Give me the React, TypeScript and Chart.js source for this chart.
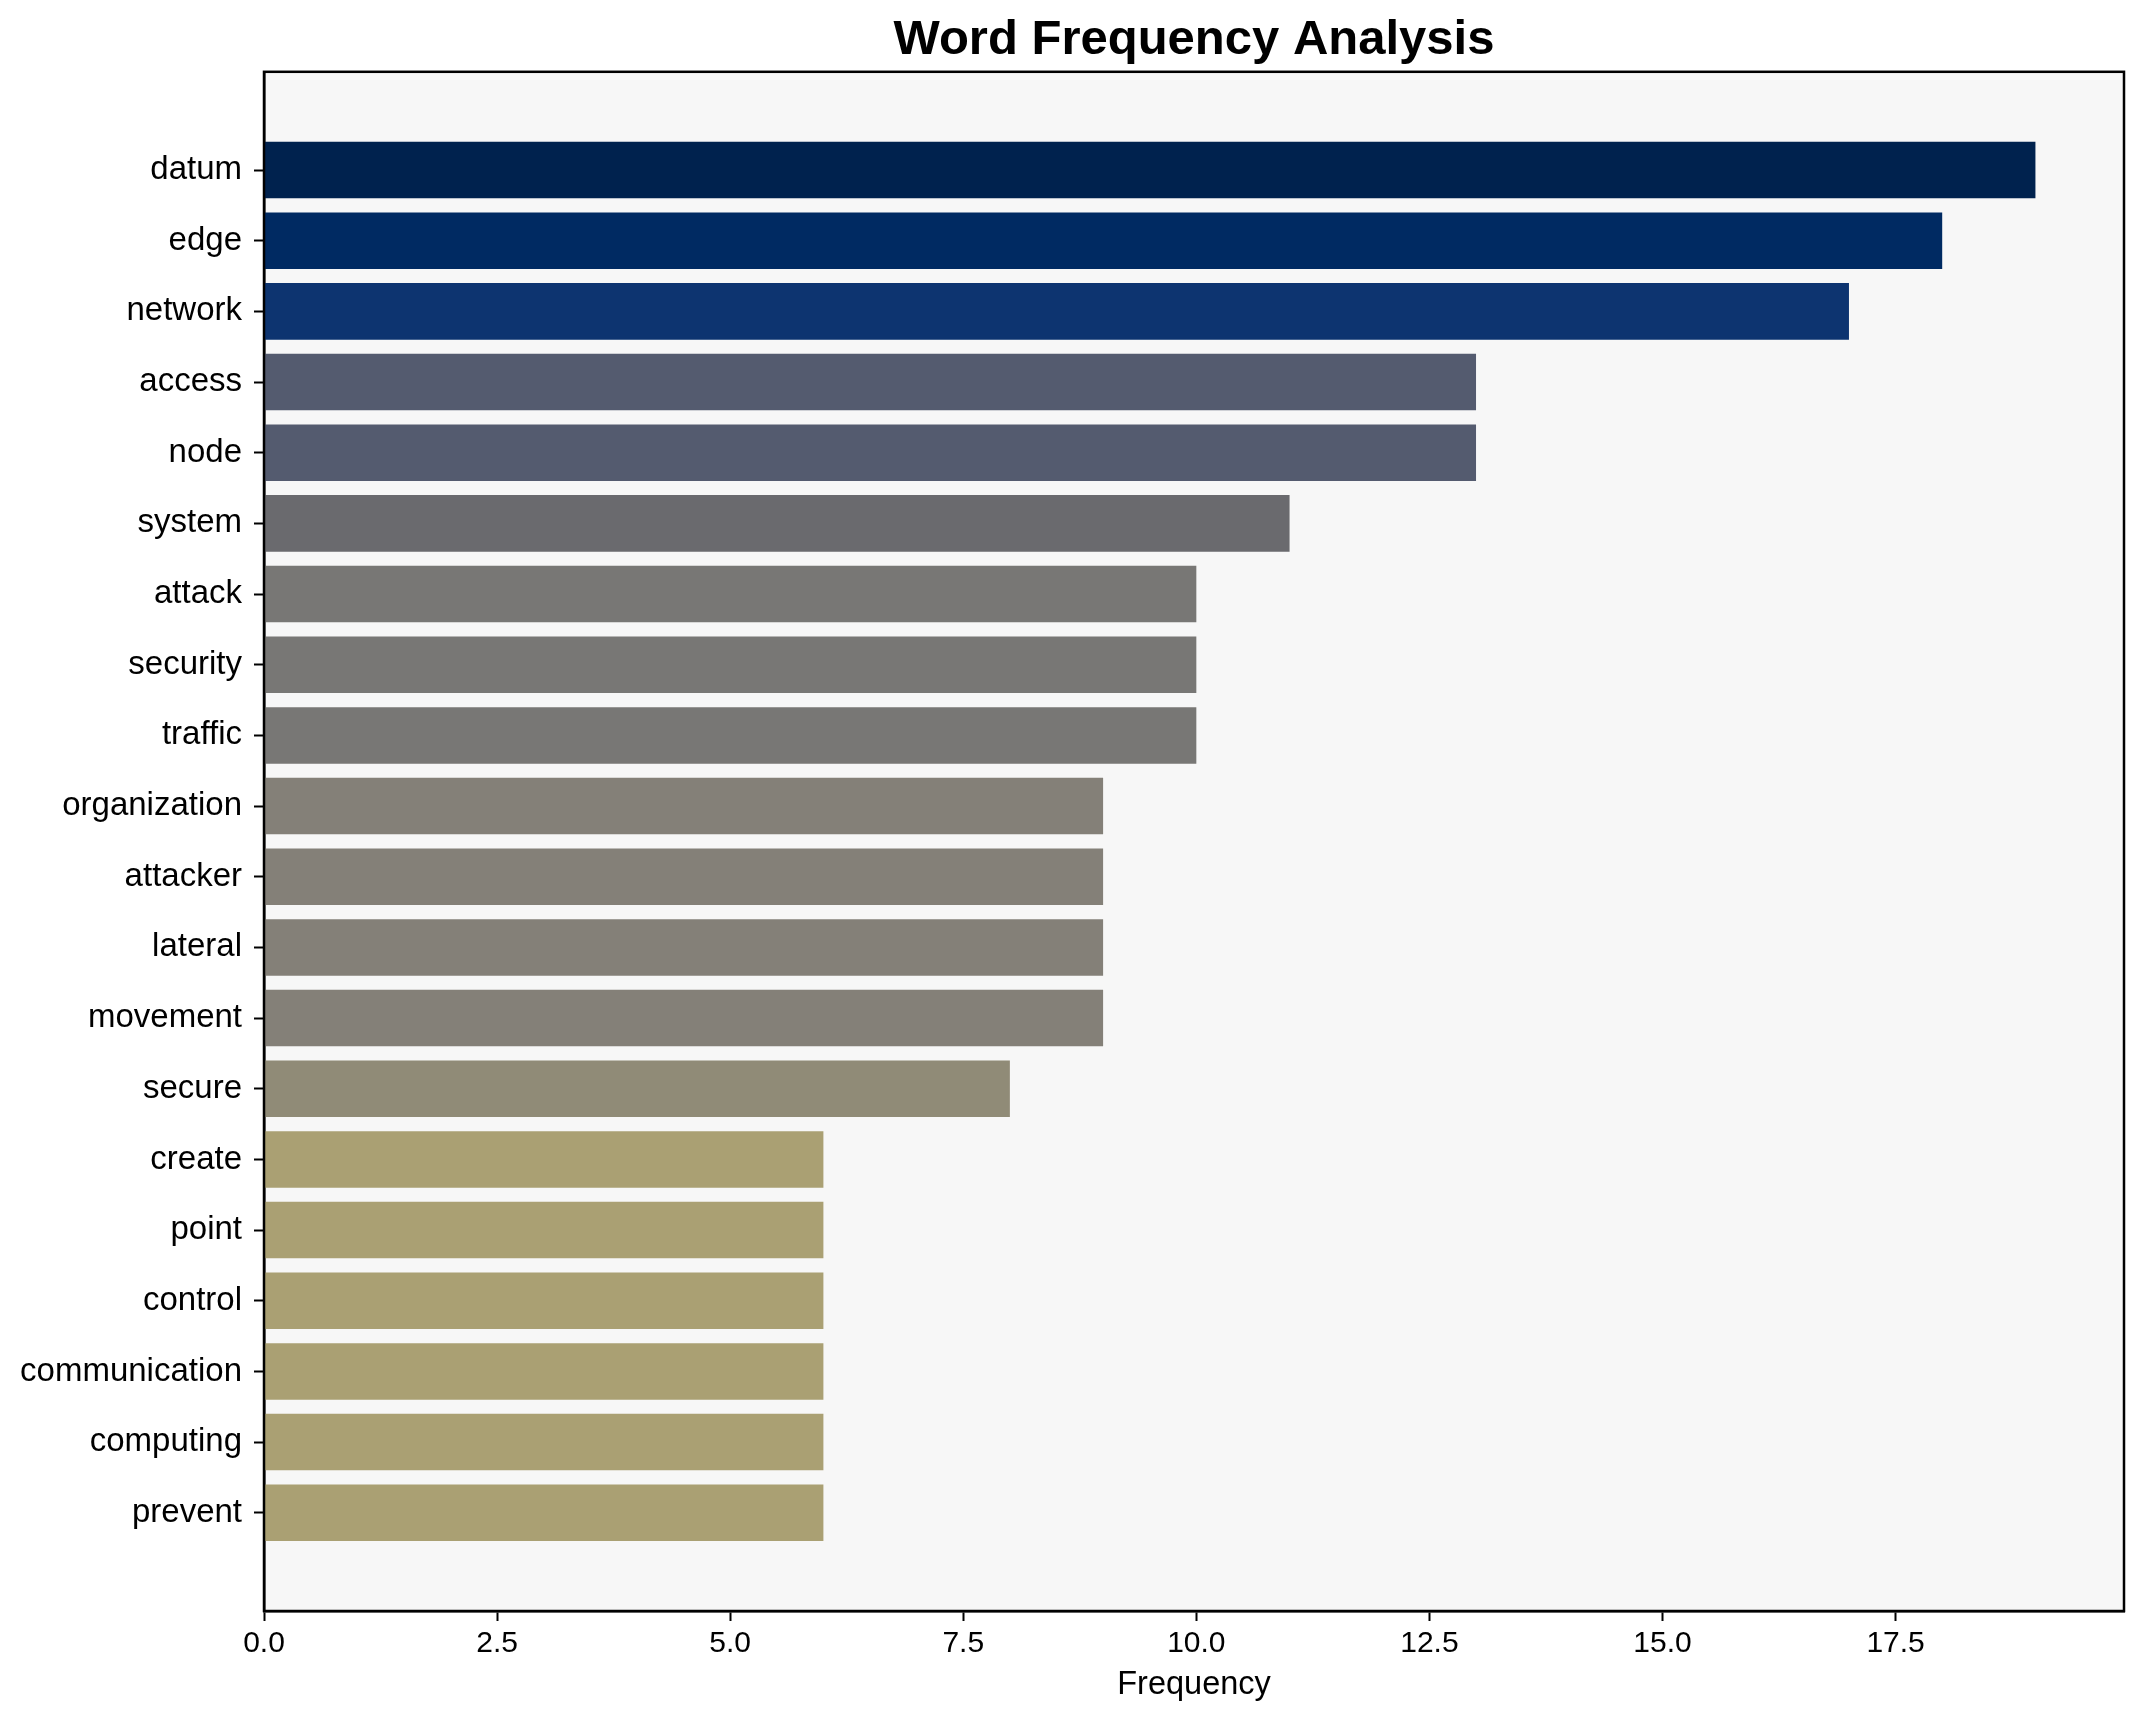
import React, { useEffect, useRef } from "react";
import { Chart, registerables } from "chart.js";

Chart.register(...registerables);

const words: string[] = [
  "datum", "edge", "network", "access", "node", "system", "attack", "security",
  "traffic", "organization", "attacker", "lateral", "movement", "secure",
  "create", "point", "control", "communication", "computing", "prevent",
];
const frequencies: number[] = [19, 18, 17, 13, 13, 11, 10, 10, 10, 9, 9, 9, 9, 8, 6, 6, 6, 6, 6, 6];
const xTickValues: number[] = [0, 2.5, 5, 7.5, 10, 12.5, 15, 17.5];

const colorByValue: Record<number, string> = {
  19: "#00224e",
  18: "#002a62",
  17: "#0d3470",
  13: "#545b6f",
  11: "#6a6a6e",
  10: "#787775",
  9: "#848078",
  8: "#908b77",
  6: "#aaa073",
};

const W = 2143;
const H = 1722;
const LEFT = 264;
const BOTTOM_AXIS = 111;
const FONT = "'Liberation Sans', Arial, Helvetica, sans-serif";

const framePlugin = {
  id: "frame",
  beforeDraw(chart: any) {
    const { ctx, chartArea } = chart;
    ctx.save();
    ctx.fillStyle = "#ffffff";
    ctx.fillRect(0, 0, chart.width, chart.height);
    ctx.fillStyle = "#f7f7f7";
    ctx.fillRect(chartArea.left, chartArea.top, chartArea.right - chartArea.left, chartArea.bottom - chartArea.top);
    ctx.restore();
  },
  afterDraw(chart: any) {
    const { ctx, chartArea } = chart;
    ctx.save();
    ctx.strokeStyle = "#000000";
    ctx.lineWidth = 2.5;
    ctx.strokeRect(chartArea.left, chartArea.top, chartArea.right - chartArea.left, chartArea.bottom - chartArea.top);
    ctx.restore();
  },
};

export default function App() {
  const ref = useRef<HTMLCanvasElement | null>(null);

  useEffect(() => {
    document.body.style.margin = "0";
    if (!ref.current) return;
    const maxVal = Math.max(...frequencies);
    const chart = new Chart(ref.current, {
      type: "bar",
      data: {
        datasets: [
          {
            data: frequencies.map((v, i) => ({ x: v, y: i })),
            backgroundColor: frequencies.map((v) => colorByValue[v]),
            borderWidth: 0,
            barPercentage: 0.8,
            categoryPercentage: 1,
          },
        ],
      },
      options: {
        indexAxis: "y",
        animation: false,
        responsive: false,
        devicePixelRatio: 1,
        layout: { padding: { left: 0, right: 19, top: 0, bottom: 0 } },
        plugins: {
          legend: { display: false },
          tooltip: { enabled: false },
          title: {
            display: true,
            text: "Word Frequency Analysis",
            fullSize: false,
            color: "#000",
            font: { family: FONT, size: 49, weight: "bold", lineHeight: 1.2 },
            padding: { top: 11, bottom: 2 },
          },
        },
        scales: {
          x: {
            type: "linear",
            position: "bottom",
            min: 0,
            max: maxVal * 1.05,
            offset: false,
            afterBuildTicks: (scale: any) => {
              scale.ticks = xTickValues.map((v) => ({ value: v }));
            },
            afterFit: (scale: any) => {
              scale.height = BOTTOM_AXIS;
            },
            ticks: {
              color: "#000",
              font: { family: FONT, size: 30 },
              padding: 5,
              maxRotation: 0,
              autoSkip: false,
              callback: (v: any) => Number(v).toFixed(1),
            },
            grid: { display: true, offset: false, drawOnChartArea: false, drawTicks: true, tickLength: 10, tickWidth: 2, color: "#000" },
            border: { display: true, color: "#000", width: 2.5 },
            title: {
              display: true,
              text: "Frequency",
              color: "#000",
              font: { family: FONT, size: 32.5, lineHeight: 1.2 },
              padding: { top: 0, bottom: 17 },
            },
          },
          y: {
            type: "linear",
            reverse: true,
            offset: false,
            min: -1.39,
            max: words.length - 1 + 1.39,
            afterBuildTicks: (scale: any) => {
              scale.ticks = words.map((_, i) => ({ value: i }));
            },
            afterFit: (scale: any) => {
              scale.width = LEFT;
            },
            ticks: {
              color: "#000",
              font: { family: FONT, size: 33 },
              padding: 12,
              autoSkip: false,
              callback: (v: any) => words[Math.round(Number(v))] ?? "",
            },
            grid: { display: true, offset: false, drawOnChartArea: false, drawTicks: true, tickLength: 10, tickWidth: 2, color: "#000" },
            border: { display: true, color: "#000", width: 2.5 },
          },
        },
      },
      plugins: [framePlugin],
    } as any);
    return () => chart.destroy();
  }, []);

  return (
    <div style={{ position: "absolute", left: 0, top: 0, width: W, height: H, background: "#fff" }}>
      <canvas ref={ref} width={W} height={H} style={{ display: "block", width: W, height: H }} />
    </div>
  );
}
